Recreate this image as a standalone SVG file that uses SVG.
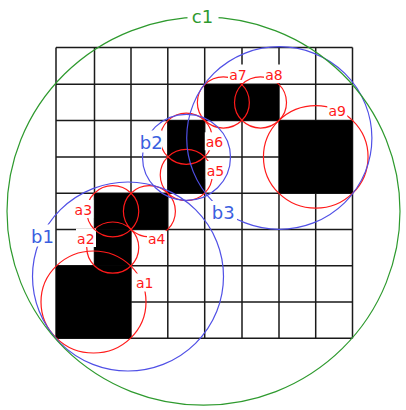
<svg xmlns="http://www.w3.org/2000/svg" width="406" height="410" viewBox="0 0 406 410">
<style>
.grid{fill:none;stroke:#1a1a1a;stroke-width:1.5}
.cell{fill:#000}
.ra{fill:none;stroke:#ff1a1a;stroke-width:1.2}
.bb{fill:none;stroke:#5050e6;stroke-width:1.2}
.gc{fill:none;stroke:#2e9a2e;stroke-width:1.2}
.bg{fill:#fff}
.ta{font-family:"DejaVu Sans",Verdana,sans-serif;font-size:14px;fill:#ff1a1a;text-anchor:middle}
.tb{font-family:"DejaVu Sans",Verdana,sans-serif;font-size:18px;fill:#3b5fe0;text-anchor:middle}
.tc{font-family:"DejaVu Sans",Verdana,sans-serif;font-size:18px;fill:#2e9a2e;text-anchor:middle}
</style>
<rect width="406" height="410" fill="#fff"/>
<g id="grid">
<path class="grid" d="M56 47.5V338.3M94.5 47.5V338.3M131 47.5V338.3M167.8 47.5V338.3M204.7 47.5V338.3M242 47.5V338.3M279 47.5V338.3M315.7 47.5V338.3M352.5 47.5V338.3M56 47.5H352.5M56 84.3H352.5M56 120.6H352.5M56 156.9H352.5M56 193.2H352.5M56 229.5H352.5M56 265.8H352.5M56 302.1H352.5M56 338.3H352.5"/>
</g>
<g id="cells">
<rect class="cell" x="204.7" y="84.3" width="74.3" height="36.3"/>
<rect class="cell" x="279" y="120.6" width="73.5" height="72.6"/>
<rect class="cell" x="167.8" y="120.6" width="36.9" height="72.6"/>
<rect class="cell" x="94.5" y="193.2" width="73.3" height="36.3"/>
<rect class="cell" x="94.5" y="229.5" width="36.5" height="36.3"/>
<rect class="cell" x="56" y="265.8" width="75" height="72.5"/>
</g>
<g id="connectors"></g>
<g id="a1"><ellipse class="ra" cx="93.5" cy="302" rx="52.5" ry="51"/><rect class="bg" x="134.5" y="273.5" width="20.5" height="18"/><text class="ta" x="144.7" y="288.3">a1</text></g>
<g id="a2"><ellipse class="ra" cx="112.75" cy="247.6" rx="26" ry="25.6"/><rect class="bg" x="76" y="228.5" width="20" height="18.5"/><text class="ta" x="85.8" y="244">a2</text></g>
<g id="a3"><ellipse class="ra" cx="112.75" cy="211.3" rx="26" ry="25.6"/><rect class="bg" x="73.5" y="200" width="19.8" height="18"/><text class="ta" x="83.3" y="215">a3</text></g>
<g id="a4"><ellipse class="ra" cx="149.4" cy="211.3" rx="26" ry="25.6"/><rect class="bg" x="147" y="230.8" width="19.5" height="16"/><text class="ta" x="156.7" y="244">a4</text></g>
<g id="a5"><ellipse class="ra" cx="186.25" cy="175" rx="26" ry="25.6"/><rect class="bg" x="205.8" y="161" width="19.5" height="18"/><text class="ta" x="215.5" y="176">a5</text></g>
<g id="a6"><ellipse class="ra" cx="186.25" cy="138.7" rx="26" ry="25.6"/><rect class="bg" x="204.8" y="132.3" width="19.5" height="18"/><text class="ta" x="214.5" y="147.3">a6</text></g>
<g id="a7"><ellipse class="ra" cx="223.35" cy="102.45" rx="26" ry="25.6"/><rect class="bg" x="228" y="64.5" width="20" height="18.5"/><text class="ta" x="238" y="80">a7</text></g>
<g id="a8"><ellipse class="ra" cx="260.5" cy="102.45" rx="26" ry="25.6"/><rect class="bg" x="264" y="64.5" width="20" height="18.5"/><text class="ta" x="274" y="80">a8</text></g>
<g id="a9"><ellipse class="ra" cx="315.75" cy="156.9" rx="52.3" ry="51.3"/><rect class="bg" x="327.3" y="101" width="20" height="18"/><text class="ta" x="337.2" y="116">a9</text></g>
<g id="b1"><ellipse class="bb" cx="128" cy="276.5" rx="95.5" ry="94.5"/><rect class="bg" x="30" y="224.5" width="25" height="22"/><text class="tb" x="42.5" y="242.7">b1</text></g>
<g id="b2"><ellipse class="bb" cx="186.5" cy="157.3" rx="44" ry="43"/><rect class="bg" x="139" y="130.5" width="23" height="22"/><text class="tb" x="151.3" y="148.5">b2</text></g>
<g id="b3"><ellipse class="bb" cx="279.3" cy="138" rx="92.6" ry="91.3"/><rect class="bg" x="210" y="201" width="27" height="22"/><text class="tb" x="223.3" y="219.3">b3</text></g>
<g id="c1"><ellipse class="gc" cx="203.5" cy="211.2" rx="196.5" ry="194"/><rect class="bg" x="187.5" y="6" width="31" height="21"/><text class="tc" x="202.5" y="23.3">c1</text></g>
</svg>
